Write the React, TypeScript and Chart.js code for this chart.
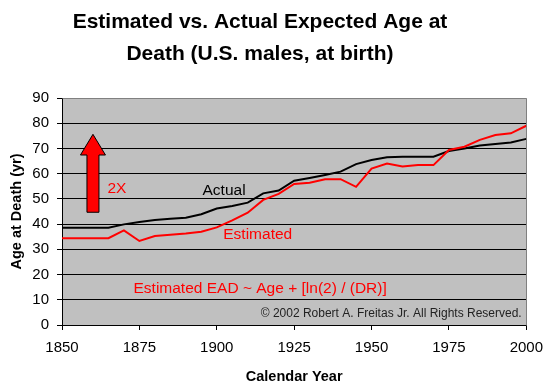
import React, { useEffect, useRef } from "react";
import { Chart, registerables } from "chart.js";

Chart.register(...registerables);

// ---- data ----
const years = [
  1850, 1855, 1860, 1865, 1870, 1875, 1880, 1885, 1890, 1895, 1900, 1905, 1910, 1915, 1920, 1925,
  1930, 1935, 1940, 1945, 1950, 1955, 1960, 1965, 1970, 1975, 1980, 1985, 1990, 1995, 2000,
];
const actual = [
  38.6, 38.6, 38.6, 38.6, 39.9, 40.8, 41.6, 42.1, 42.5, 43.9, 46.2, 47.2, 48.5, 52.2, 53.3, 57.2,
  58.3, 59.5, 60.8, 63.8, 65.4, 66.5, 66.7, 66.7, 66.7, 69.0, 70.0, 71.2, 71.8, 72.4, 73.8,
];
const estimated = [
  34.4, 34.4, 34.4, 34.4, 37.5, 33.3, 35.3, 35.8, 36.3, 37.0, 38.7, 41.5, 44.5, 49.6, 52.0, 55.9,
  56.4, 57.8, 57.8, 54.8, 62.0, 64.0, 62.8, 63.4, 63.4, 69.4, 70.7, 73.4, 75.3, 76.0, 79.0,
];
const xMin = 1850;
const xMax = 2000;
const xStep = 25;
const yMin = 0;
const yMax = 90;
const yStep = 10;

const titleLines = ["Estimated vs. Actual Expected Age at", "Death (U.S. males, at birth)"];
const xTitle = "Calendar Year";
const yTitle = "Age at Death (yr)";
const seriesNames = ["Actual", "Estimated"];

// annotation text anchored in data coordinates
const noteTexts = ["Actual", "2X", "Estimated", "Estimated EAD ~ Age + [ln(2) / (DR)]", "© 2002 Robert A. Freitas Jr. All Rights Reserved."];
const noteYears = [1895.4, 1864.7, 1902.1, 1873.1, 1998.5];
const noteValues = [51.5, 52.2, 34.1, 12.6, 3.0];

// arrow annotation (data coordinates)
const arrowYear = 1860;
const arrowTip = 75.6;
const arrowHeadBase = 67.4;
const arrowBottom = 44.7;

const FONT = "'Liberation Sans', Arial, sans-serif";

const decorPlugin = {
  id: "decor",
  beforeDraw(chart: any) {
    const { ctx, chartArea: a } = chart;
    ctx.save();
    ctx.fillStyle = "#ffffff";
    ctx.fillRect(0, 0, chart.width, chart.height);
    ctx.fillStyle = "#c0c0c0";
    ctx.fillRect(a.left, a.top, a.right - a.left, a.bottom - a.top);
    ctx.restore();
  },
  beforeDatasetsDraw(chart: any) {
    const { ctx, chartArea: a, scales } = chart;
    const xs = scales.x;
    const ys = scales.y;
    ctx.save();
    // gray frame top/right
    ctx.strokeStyle = "#808080";
    ctx.lineWidth = 1;
    ctx.beginPath();
    ctx.moveTo(Math.round(a.left) + 0.5, Math.round(a.top) + 0.5);
    ctx.lineTo(Math.round(a.right) + 0.5, Math.round(a.top) + 0.5);
    ctx.lineTo(Math.round(a.right) + 0.5, Math.round(a.bottom) + 0.5);
    ctx.stroke();

    // arrow
    const cx = xs.getPixelForValue(arrowYear);
    const tip = ys.getPixelForValue(arrowTip);
    const hb = ys.getPixelForValue(arrowHeadBase);
    const bot = ys.getPixelForValue(arrowBottom);
    const sw = 6;
    const hw = 12.5;
    ctx.beginPath();
    ctx.moveTo(cx, tip);
    ctx.lineTo(cx + hw, hb);
    ctx.lineTo(cx + sw, hb);
    ctx.lineTo(cx + sw, bot);
    ctx.lineTo(cx - sw, bot);
    ctx.lineTo(cx - sw, hb);
    ctx.lineTo(cx - hw, hb);
    ctx.closePath();
    ctx.fillStyle = "#ff0000";
    ctx.fill();
    ctx.strokeStyle = "#000000";
    ctx.lineWidth = 1;
    ctx.stroke();
    ctx.restore();
  },
  afterDraw(chart: any) {
    const { ctx, chartArea: a, scales } = chart;
    const xs = scales.x;
    const ys = scales.y;
    ctx.save();
    ctx.textBaseline = "alphabetic";
    // notes
    noteTexts.forEach((t, i) => {
      const px = xs.getPixelForValue(noteYears[i]);
      const py = ys.getPixelForValue(noteValues[i]);
      if (i === 4) {
        ctx.font = `12px ${FONT}`;
        ctx.fillStyle = "#222222";
        ctx.textAlign = "right";
      } else {
        ctx.font = `15.5px ${FONT}`;
        ctx.fillStyle = i === 0 ? "#000000" : "#ff0000";
        ctx.textAlign = "left";
      }
      ctx.fillText(t, px, py);
    });

    // main title
    ctx.fillStyle = "#000000";
    ctx.textAlign = "center";
    ctx.font = `bold 21px ${FONT}`;
    ctx.fillText(titleLines[0], 260, 28);
    ctx.fillText(titleLines[1], 260, 60);

    // x title
    ctx.font = `bold 14.5px ${FONT}`;
    ctx.fillText(xTitle, (a.left + a.right) / 2, 381);

    // y title
    ctx.translate(17, (a.top + a.bottom) / 2);
    ctx.rotate(-Math.PI / 2);
    ctx.textBaseline = "middle";
    ctx.font = `bold 14.5px ${FONT}`;
    ctx.fillText(yTitle, 0, 0);
    ctx.restore();
  },
};

export default function App() {
  const ref = useRef<HTMLCanvasElement | null>(null);

  useEffect(() => {
    document.body.style.margin = "0";
    const canvas = ref.current;
    if (!canvas) return;
    const chart = new Chart(canvas, {
      type: "line",
      data: {
        datasets: [
          {
            label: seriesNames[1],
            data: years.map((x, i) => ({ x, y: estimated[i] })),
            borderColor: "#ff0000",
            borderWidth: 2,
            pointRadius: 0,
            tension: 0,
            fill: false,
          },
          {
            label: seriesNames[0],
            data: years.map((x, i) => ({ x, y: actual[i] })),
            borderColor: "#000000",
            borderWidth: 2,
            pointRadius: 0,
            tension: 0,
            fill: false,
          },
        ],
      },
      options: {
        responsive: false,
        animation: false,
        events: [],
        layout: { padding: { top: 98, right: 23, left: 0, bottom: 0 } },
        plugins: {
          legend: { display: false },
          title: { display: false },
          tooltip: { enabled: false },
        },
        scales: {
          x: {
            type: "linear",
            min: xMin,
            max: xMax,
            afterFit: (s: any) => {
              s.height = 67;
            },
            ticks: {
              stepSize: xStep,
              color: "#000000",
              font: { family: FONT, size: 15 },
              padding: 9,
              maxRotation: 0,
              autoSkip: false,
              callback: (v: any) => String(v),
            },
            grid: {
              drawOnChartArea: false,
              drawTicks: true,
              tickLength: 5,
              tickColor: "#000000",
              color: "#000000",
            },
            border: { color: "#000000", width: 1 },
          },
          y: {
            type: "linear",
            min: yMin,
            max: yMax,
            afterFit: (s: any) => {
              s.width = 62;
            },
            ticks: {
              stepSize: yStep,
              color: "#000000",
              font: { family: FONT, size: 15 },
              padding: 8,
              callback: (v: any) => String(v),
            },
            grid: {
              color: (c: any) => (c.tick && c.tick.value === yMax ? "#808080" : "#000000"),
              lineWidth: 1,
              tickLength: 5,
              tickColor: "#000000",
            },
            border: { color: "#000000", width: 1 },
          },
        },
      },
      plugins: [decorPlugin],
    });
    return () => chart.destroy();
  }, []);

  return (
    <div style={{ width: 552, height: 392 }}>
      <canvas ref={ref} width={552} height={392} style={{ display: "block" }} />
    </div>
  );
}
